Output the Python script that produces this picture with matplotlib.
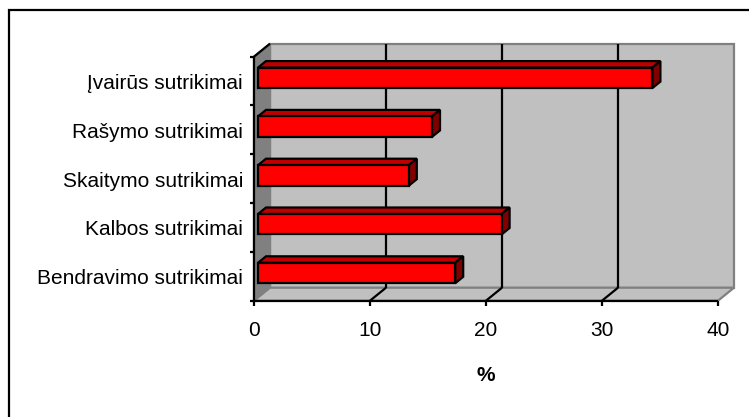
import matplotlib
matplotlib.use("Agg")
import matplotlib.pyplot as plt
from matplotlib.lines import Line2D
from matplotlib.patches import Polygon

plt.rcParams['font.family'] = ['Liberation Sans', 'DejaVu Sans']

categories = ["Bendravimo sutrikimai", "Kalbos sutrikimai", "Skaitymo sutrikimai",
              "Rašymo sutrikimai", "Įvairūs sutrikimai"]
values = [17, 21, 13, 15, 34]
x_ticks = [0, 10, 20, 30, 40]
x_label = "%"

W, H = 749, 417
fig = plt.figure(figsize=(W / 100, H / 100), dpi=100)
ax = fig.add_axes([254 / W, 1 - 300.7 / H, 464 / W, 244 / H])
ax.set_xlim(0, 40)
ax.set_ylim(0, 5)
ax.axis("off")

# depth of the fake 3D box, in data units
dx = 16 / 11.6
dy = 13 / 48.8
GREY = "#808080"
SILVER = "#C0C0C0"
lw = 1.6
font_size = 15


def poly(points, face, edge, width=lw, z=1):
    ax.add_patch(Polygon(points, closed=True, facecolor=face, edgecolor=edge,
                         linewidth=width, clip_on=False, zorder=z, joinstyle="miter"))


def line(xs, ys, color="black", width=lw, z=2):
    ax.add_line(Line2D(xs, ys, color=color, linewidth=width, clip_on=False,
                       zorder=z, solid_capstyle="butt"))


# walls
poly([(dx, dy), (40 + dx, dy), (40 + dx, 5 + dy), (dx, 5 + dy)], SILVER, GREY)
poly([(0, 0), (dx, dy), (dx, 5 + dy), (0, 5)], GREY, GREY)
poly([(0, 0), (40, 0), (40 + dx, dy), (dx, dy)], SILVER, GREY)

# grid on back wall and floor
for t in x_ticks[1:-1]:
    line([t + dx, t + dx], [dy, 5 + dy])
    line([t, t + dx], [0, dy])

# axes and ticks
line([0, 0], [0, 5], z=3)
line([0, 40], [0, 0], z=3)
line([0, dx], [5, 5 + dy], z=3)
for t in x_ticks:
    line([t, t], [0, -5 / 48.8], z=3)
    ax.text(t, -30 / 48.8, str(t), ha="center", va="center", fontsize=font_size)
for i in range(6):
    line([0, -4 / 11.6], [i, i], z=3)

# bars
bar_h = 0.42
off_x = dx / 4
off_y = dy / 4
depth_x = dx / 2
depth_y = dy / 2
pos = [i + 0.5 + off_y for i in range(len(values))]
ax.barh(pos, values, height=bar_h, left=off_x, color="#FF0000", edgecolor="black",
        linewidth=lw, zorder=6, clip_on=False)
for p, v, name in zip(pos, values, categories):
    top = p + bar_h / 2
    low = p - bar_h / 2
    end = off_x + v
    poly([(off_x, top), (end, top), (end + depth_x, top + depth_y),
          (off_x + depth_x, top + depth_y)], "#C00000", "black", z=5)
    poly([(end, low), (end + depth_x, low + depth_y), (end + depth_x, top + depth_y),
          (end, top)], "#800000", "black", z=5)
    ax.text(-11 / 11.6, p - off_y - 0.05, name, ha="right", va="center", fontsize=font_size)

ax.text(20, -75 / 48.8, x_label, ha="center", va="center", fontsize=font_size, fontweight="bold")

# outer frame, only left and top edges are inside the crop
fig.add_artist(Line2D([9 / W, 9 / W, 1], [0, 1 - 10 / H, 1 - 10 / H], color="black",
                      linewidth=1.6, solid_joinstyle="miter"))

fig.savefig("out.png", dpi=100)
